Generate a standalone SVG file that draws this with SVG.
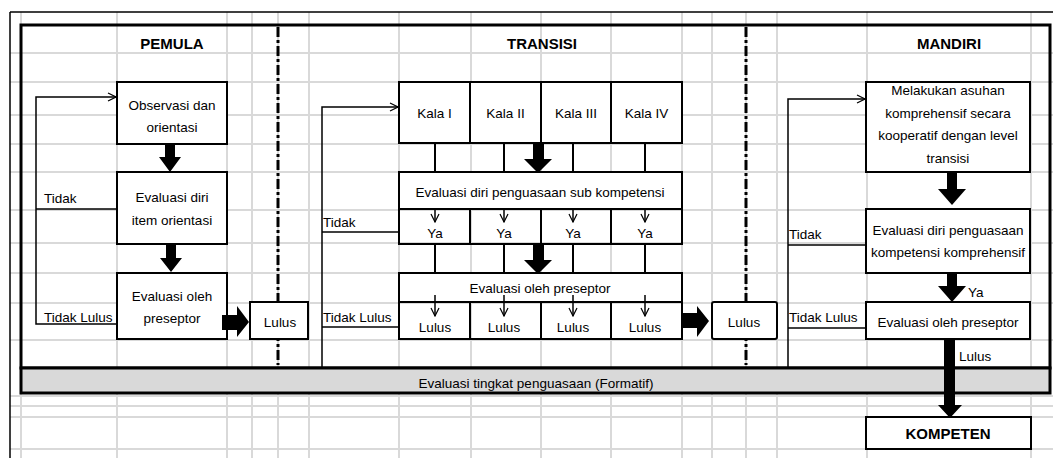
<svg xmlns="http://www.w3.org/2000/svg" width="1053" height="458" viewBox="0 0 1053 458">
<defs>
<style>
.grid{stroke:#d9d9d9;stroke-width:2;fill:none}
.box{fill:#fff;stroke:#000;stroke-width:2}
.ln{stroke:#000;stroke-width:1.5;fill:none}
.cn{stroke:#000;stroke-width:2;fill:none}
.dash{stroke:#000;stroke-width:3;stroke-dasharray:10 3 3 3;fill:none}
.big{fill:#000}
text{font-family:"Liberation Sans",Arial,sans-serif;font-size:13.5px;fill:#000}
.c{text-anchor:middle}
.h{font-weight:bold;font-size:15px;text-anchor:middle}
</style>
<marker id="open" viewBox="0 0 10 10" refX="9" refY="5" markerWidth="10" markerHeight="10" markerUnits="userSpaceOnUse" orient="auto">
<path d="M1,1 L9,5 L1,9" fill="none" stroke="#000" stroke-width="1.2"/>
</marker>
</defs>
<rect width="1053" height="458" fill="#fff"/>
<g id="grid">
<path class="grid" d="M10,53H1053M10,82H1053M10,115H1053M10,144H1053M10,172H1053M10,210H1053M10,243H1053M10,273H1053M10,303H1053M10,340H1053M10,396H1053M10,406H1053M10,417H1053M10,449H1053"/>
<path class="grid" d="M21,12V458M117,12V458M227,12V458M252,12V458M278,12V458M309,12V458M399,12V458M471,12V458M541,12V458M611,12V458M682,12V458M712,12V458M746,12V458M777,12V458M867,12V458M1031,12V458"/>
<path d="M10,12H1053M10,12V458" stroke="#000" stroke-width="1.5" fill="none"/>
</g>
<g id="frame">
<rect x="21" y="25" width="1029" height="343" fill="none" stroke="#000" stroke-width="3"/>
<rect x="21" y="368" width="1029" height="25" fill="#d9d9d9" stroke="#000" stroke-width="3"/>
<text class="c" x="536" y="388">Evaluasi tingkat penguasaan (Formatif)</text>
<line class="dash" x1="278" y1="27" x2="278" y2="365"/>
<line class="dash" x1="746" y1="27" x2="746" y2="365"/>
<text class="h" x="172" y="49">PEMULA</text>
<text class="h" x="542" y="49">TRANSISI</text>
<text class="h" x="949" y="49">MANDIRI</text>
</g>
<g id="observasi"><rect class="box" x="117" y="82" width="110" height="62"/><text class="c" x="172" y="110">Observasi dan</text><text class="c" x="172" y="132">orientasi</text></g>
<g id="evaldiri-pemula"><rect class="box" x="117" y="172" width="110" height="72"/><text class="c" x="172" y="202">Evaluasi diri</text><text class="c" x="172" y="225">item orientasi</text></g>
<g id="evalpresep-pemula"><rect class="box" x="117" y="273" width="110" height="66"/><text class="c" x="172" y="301">Evaluasi oleh</text><text class="c" x="172" y="323">preseptor</text></g>
<g id="lulus-pemula"><rect class="box" x="250" y="302" width="58" height="37"/><text class="c" x="280" y="327">Lulus</text></g>
<g id="tx-pemula"><text x="44" y="203">Tidak</text><text x="44" y="322">Tidak Lulus</text></g>
<g id="kala"><rect class="box" x="399" y="82" width="283" height="61" stroke-width="2.5"/><path class="cn" d="M470,82V143M541,82V143M611,82V143"/>
<text class="c" x="434.5" y="118">Kala I</text><text class="c" x="505.5" y="118">Kala II</text><text class="c" x="576" y="118">Kala III</text><text class="c" x="646.5" y="118">Kala IV</text></g>
<g id="evaldiri-transisi"><rect class="box" x="399" y="172" width="283" height="37" stroke-width="2.5"/><text class="c" x="540" y="197">Evaluasi diri penguasaan sub kompetensi</text></g>
<g id="ya-row"><path class="cn" d="M399,209V244H682V209M470,209V244M541,209V244M611,209V244"/>
<text class="c" x="435" y="238">Ya</text><text class="c" x="504" y="238">Ya</text><text class="c" x="573" y="238">Ya</text><text class="c" x="645" y="238">Ya</text></g>
<g id="evalpresep-transisi"><rect class="box" x="399" y="273" width="283" height="29" stroke-width="2.5"/><text class="c" x="540" y="293">Evaluasi oleh preseptor</text></g>
<g id="lulus-row"><path class="cn" d="M399,302V339H682V302M470,302V339M541,302V339M611,302V339"/>
<text class="c" x="435" y="332">Lulus</text><text class="c" x="504" y="332">Lulus</text><text class="c" x="573" y="332">Lulus</text><text class="c" x="645" y="332">Lulus</text></g>
<g id="lulus-transisi"><rect class="box" x="712" y="302" width="65" height="37" rx="2"/><text class="c" x="744" y="327">Lulus</text></g>
<g id="tx-transisi"><text x="323" y="227">Tidak</text><text x="323" y="322">Tidak Lulus</text></g>
<g id="melakukan"><rect class="box" x="866" y="82" width="164" height="90"/><text class="c" x="948" y="95">Melakukan asuhan</text><text class="c" x="948" y="118">komprehensif secara</text><text class="c" x="948" y="140">kooperatif dengan level</text><text class="c" x="948" y="163">transisi</text></g>
<g id="evaldiri-mandiri"><rect class="box" x="866" y="209" width="164" height="64"/><text class="c" x="948" y="235">Evaluasi diri penguasaan</text><text class="c" x="948" y="257">kompetensi komprehensif</text></g>
<g id="evalpresep-mandiri"><rect class="box" x="866" y="302" width="164" height="37"/><text class="c" x="948" y="327">Evaluasi oleh preseptor</text></g>
<g id="tx-mandiri"><text x="789" y="239">Tidak</text><text x="789" y="322">Tidak Lulus</text><text x="968" y="297">Ya</text><text x="959" y="361">Lulus</text></g>
<g id="kompeten"><rect class="box" x="866" y="417" width="165" height="32" stroke-width="2.5"/><text class="h" x="948" y="439">KOMPETEN</text></g>
<g id="connectors">
<polyline class="ln" points="117,324 36,324 36,97 116,97" marker-end="url(#open)"/>
<line class="ln" x1="36" y1="209" x2="117" y2="209"/>
<polygon class="big" points="165,144 175,144 175,157 181,157 170,172 159,157 165,157"/>
<polygon class="big" points="166,243 176,243 176,258 182,258 171,272 160,258 166,258"/>
<polygon class="big" points="222,315 237,315 237,306 249,322 237,337 237,330 222,330"/>
<polyline class="ln" points="322,367 322,107 398,107" marker-end="url(#open)"/>
<line class="ln" x1="322" y1="232" x2="399" y2="232"/>
<line class="ln" x1="322" y1="327" x2="399" y2="327"/>
<path class="cn" d="M435,143V172M504,143V172M573,143V172M645,143V172M435,244V273M504,244V273M573,244V273M645,244V273"/>
<polygon class="big" points="533,143 544,143 544,159 552,159 538,173 524,159 533,159"/>
<polygon class="big" points="533,244 544,244 544,260 552,260 538,274 524,260 533,260"/>
<line class="ln" x1="435" y1="208" x2="435" y2="222" marker-end="url(#open)"/>
<line class="ln" x1="504" y1="208" x2="504" y2="222" marker-end="url(#open)"/>
<line class="ln" x1="573" y1="208" x2="573" y2="222" marker-end="url(#open)"/>
<line class="ln" x1="645" y1="208" x2="645" y2="222" marker-end="url(#open)"/>
<line class="ln" x1="435" y1="295" x2="435" y2="316" marker-end="url(#open)"/>
<line class="ln" x1="504" y1="295" x2="504" y2="316" marker-end="url(#open)"/>
<line class="ln" x1="573" y1="295" x2="573" y2="316" marker-end="url(#open)"/>
<line class="ln" x1="645" y1="295" x2="645" y2="316" marker-end="url(#open)"/>
<polygon class="big" points="682,313 697,313 697,306 709,321 697,337 697,328 682,328"/>
<polyline class="ln" points="788,367 788,99 865,99" marker-end="url(#open)"/>
<line class="ln" x1="788" y1="245" x2="866" y2="245"/>
<line class="ln" x1="788" y1="328" x2="866" y2="328"/>
<polygon class="big" points="947,172 957,172 957,189 966,189 952,205 938,189 947,189"/>
<polygon class="big" points="947,273 957,273 957,286 966,286 952,302 938,286 947,286"/>
<polygon class="big" points="944,339 955,339 955,405 962,405 950,418 938,405 944,405"/>
</g>
</svg>
